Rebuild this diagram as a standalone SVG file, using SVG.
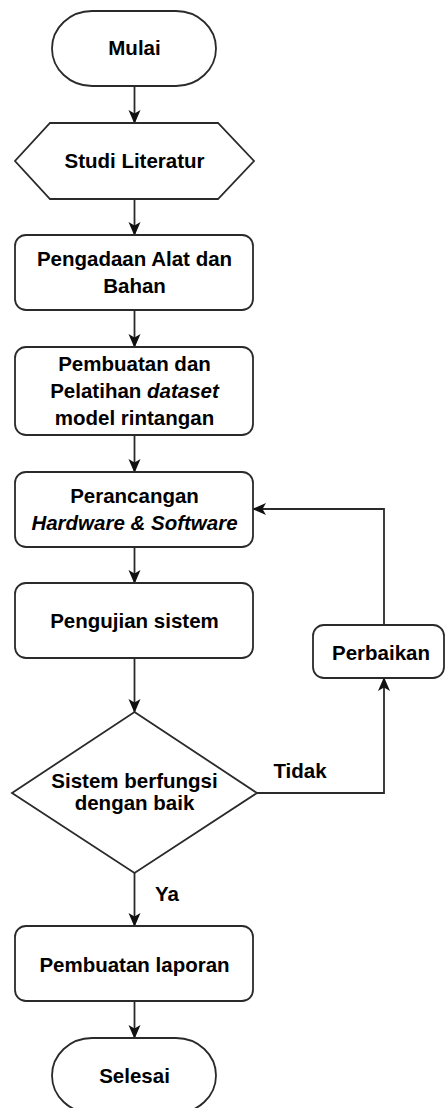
<svg xmlns="http://www.w3.org/2000/svg" width="446" height="1108" viewBox="0 0 446 1108">
<style>
.s{fill:#fff;stroke:#2a2a2a;stroke-width:1.8}
.t{font-family:"Liberation Sans",Arial,sans-serif;font-weight:bold;font-size:20.5px;fill:#000;text-anchor:middle}
.c{fill:none;stroke:#2a2a2a;stroke-width:1.8}
</style>
<defs>
<marker id="ah" viewBox="0 0 14 14" refX="13" refY="7" markerWidth="14" markerHeight="14" markerUnits="userSpaceOnUse" orient="auto">
<path d="M0,1 L14,7 L0,13 L3.5,7 z" fill="#111"/>
</marker>
</defs>
<rect width="446" height="1108" fill="#fff"/>
<g id="connectors">
<path class="c" d="M134.5,86 V123" marker-end="url(#ah)"/>
<path class="c" d="M134.5,199 V235" marker-end="url(#ah)"/>
<path class="c" d="M134.5,310 V347" marker-end="url(#ah)"/>
<path class="c" d="M134.5,435 V472" marker-end="url(#ah)"/>
<path class="c" d="M134.5,547 V583" marker-end="url(#ah)"/>
<path class="c" d="M134.5,658 V712" marker-end="url(#ah)"/>
<path class="c" d="M134.5,873 V926" marker-end="url(#ah)"/>
<path class="c" d="M134.5,1001 V1038" marker-end="url(#ah)"/>
<path class="c" d="M257,793 H384 V678" marker-end="url(#ah)"/>
<path class="c" d="M384,625 V509 H253" marker-end="url(#ah)"/>
<text class="t" x="300" y="778">Tidak</text>
<text class="t" x="167" y="901">Ya</text>
</g>
<g id="mulai">
<rect class="s" x="52" y="11" width="164" height="75" rx="40" ry="37.5"/>
<text class="t" x="134.5" y="55">Mulai</text>
</g>
<g id="studi">
<polygon class="s" points="50,123 218,123 254,161 218,199 50,199 15,161"/>
<text class="t" x="134.5" y="168">Studi Literatur</text>
</g>
<g id="pengadaan">
<rect class="s" x="15" y="235" width="238" height="75" rx="11"/>
<text class="t" x="134.5" y="265.5">Pengadaan Alat dan</text>
<text class="t" x="134.5" y="292.5">Bahan</text>
</g>
<g id="pembuatan-dataset">
<rect class="s" x="15" y="347" width="238" height="88" rx="11"/>
<text class="t" x="134.5" y="370.5">Pembuatan dan</text>
<text class="t" x="134.5" y="398">Pelatihan <tspan font-style="italic">dataset</tspan></text>
<text class="t" x="134.5" y="424.5">model rintangan</text>
</g>
<g id="perancangan">
<rect class="s" x="15" y="472" width="238" height="75" rx="11"/>
<text class="t" x="134.5" y="502.5">Perancangan</text>
<text class="t" x="134.5" y="530" font-style="italic">Hardware &amp; Software</text>
</g>
<g id="pengujian">
<rect class="s" x="15" y="583" width="238" height="75" rx="11"/>
<text class="t" x="134.5" y="628">Pengujian sistem</text>
</g>
<g id="perbaikan">
<rect class="s" x="313" y="625" width="131" height="53" rx="11"/>
<text class="t" x="381" y="660">Perbaikan</text>
</g>
<g id="keputusan">
<polygon class="s" points="134.5,712 257,793 134.5,873 12,793"/>
<text class="t" x="134.5" y="787.5">Sistem berfungsi</text>
<text class="t" x="134.5" y="810">dengan baik</text>
</g>
<g id="laporan">
<rect class="s" x="15" y="926" width="238" height="75" rx="11"/>
<text class="t" x="134.5" y="972">Pembuatan laporan</text>
</g>
<g id="selesai">
<rect class="s" x="52" y="1038" width="164" height="75" rx="40" ry="37.5"/>
<text class="t" x="134.5" y="1083">Selesai</text>
</g>
</svg>
